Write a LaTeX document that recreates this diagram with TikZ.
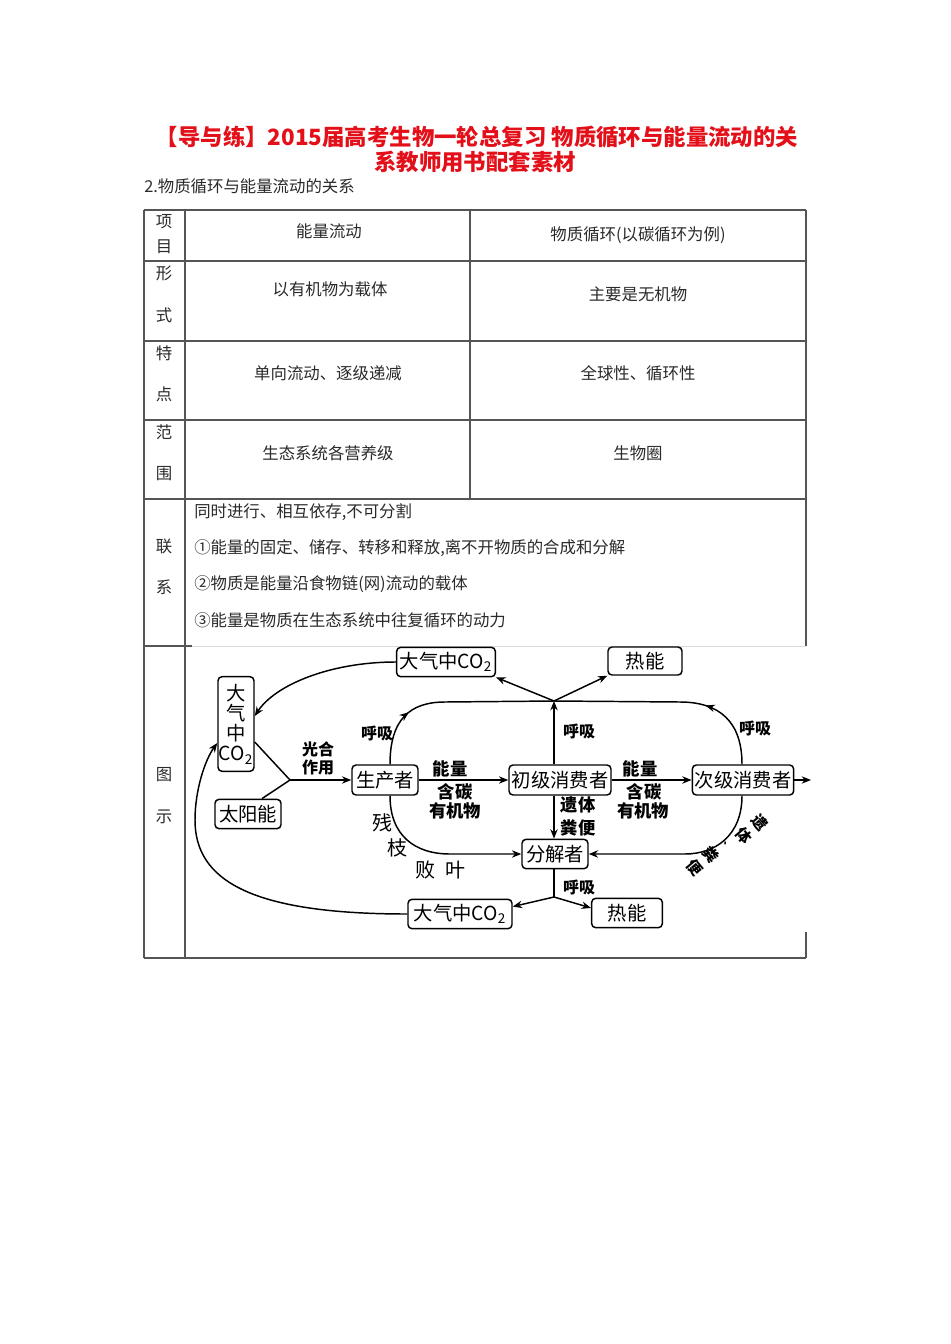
\documentclass[tikz,border=0pt]{standalone}
\usepackage{fontspec}
\setmainfont{Noto Sans CJK SC}
\usetikzlibrary{arrows.meta,calc,decorations.markings}
\definecolor{titlered}{HTML}{E3101A}
\definecolor{tline}{HTML}{555555}
\definecolor{ttext}{HTML}{2A2A2A}
\begin{document}
\begin{tikzpicture}[x=0.75pt,y=-0.75pt,
  tl/.style={draw=tline,line width=0.8pt},
  ttxt/.style={text=ttext,font=\fontsize{12.3}{14}\selectfont,inner sep=0},
  box/.style={draw,rounded corners=3pt,line width=1.1pt,inner sep=0,font=\fontsize{14.5}{17}\selectfont},
  lab/.style={inner sep=0,font=\bfseries\fontsize{12}{14}\selectfont},
  labb/.style={inner sep=0,font=\bfseries\fontsize{13}{15}\selectfont},
  labc/.style={inner sep=0,font=\fontsize{15}{17}\selectfont},
  labr/.style={inner sep=0,font=\bfseries\fontsize{11.5}{16}\selectfont,rotate=-50,align=center},
  conn/.style={line width=1.1pt,-{Stealth[length=7pt,width=5.5pt]}},
  plain/.style={line width=1.1pt},
  midarrow/.style={postaction={decorate},decoration={markings,mark=at position #1 with {\arrow{Stealth[length=7pt,width=5.5pt]}}}},
]
\fill[white] (0,0) rectangle (950,1344);
\useasboundingbox (0,0) rectangle (950,1344);

% ---- title ----
\node[font=\bfseries\fontsize{16.8}{20}\selectfont,text=titlered,inner sep=0] (t1) at (477,137) {【导与练】2015届高考生物一轮总复习 物质循环与能量流动的关};
\node[font=\bfseries\fontsize{16.8}{20}\selectfont,text=titlered,inner sep=0] (t2) at (475,162) {系教师用书配套素材};
\node[ttxt,anchor=west] (sec) at (144,186) {2.物质循环与能量流动的关系};

% ---- table lines ----
\draw[tl] (144,210) -- (806,210);
\draw[tl] (144,261) -- (806,261);
\draw[tl] (144,341) -- (806,341);
\draw[tl] (144,420) -- (806,420);
\draw[tl] (144,499) -- (806,499);
\draw[tl] (144,646) -- (192,646);
\draw[draw=black!15,line width=0.6pt] (192,646) -- (806,646);
\draw[tl] (144,958) -- (806,958);
\draw[tl] (144,210) -- (144,958);
\draw[tl] (185,210) -- (185,958);
\draw[tl] (470,210) -- (470,499);
\draw[tl] (806,210) -- (806,646);
\draw[tl] (806,932) -- (806,958);

% ---- row labels ----
\node[ttxt] (r1a) at (164,222) {项};
\node[ttxt] (r1b) at (164,247) {目};
\node[ttxt] (r2a) at (164,273) {形};
\node[ttxt] (r2b) at (164,315) {式};
\node[ttxt] (r3a) at (164,353) {特};
\node[ttxt] (r3b) at (164,394) {点};
\node[ttxt] (r4a) at (164,432) {范};
\node[ttxt] (r4b) at (164,474) {围};
\node[ttxt] (r5a) at (164,546) {联};
\node[ttxt] (r5b) at (164,587) {系};
\node[ttxt] (r6a) at (164,775) {图};
\node[ttxt] (r6b) at (164,817) {示};

% ---- cells ----
\node[ttxt] (c11) at (329,231) {能量流动};
\node[ttxt] (c12) at (638,235) {物质循环(以碳循环为例)};
\node[ttxt] (c21) at (330,289) {以有机物为载体};
\node[ttxt] (c22) at (638,294) {主要是无机物};
\node[ttxt] (c31) at (328,373) {单向流动、逐级递减};
\node[ttxt] (c32) at (638,373) {全球性、循环性};
\node[ttxt] (c41) at (328,453) {生态系统各营养级};
\node[ttxt] (c42) at (638,453) {生物圈};
\node[ttxt,anchor=west] (l1) at (194,512) {同时进行、相互依存,不可分割};
\node[ttxt,anchor=west] (l2) at (194,548) {①能量的固定、储存、转移和释放,离不开物质的合成和分解};
\node[ttxt,anchor=west] (l3) at (194,584) {②物质是能量沿食物链(网)流动的载体};
\node[ttxt,anchor=west] (l4) at (194,620) {③能量是物质在生态系统中往复循环的动力};

% ---- diagram boxes ----
\node[box,minimum width=74pt,minimum height=22pt] (topco2) at (446,662) {大气中CO\textsubscript{2}};
\node[box,minimum width=55.5pt,minimum height=21pt] (topheat) at (645,661) {热能};
\node[box,minimum width=27pt,minimum height=71pt,align=center,font=\fontsize{14.5}{15.2}\selectfont] (leftco2) at (236,724) {大\\气\\中\\CO\textsubscript{2}};
\node[box,minimum width=49.5pt,minimum height=22pt] (sun) at (248,814) {太阳能};
\node[box,minimum width=49.5pt,minimum height=22.5pt] (prod) at (385,780) {生产者};
\node[box,minimum width=76.5pt,minimum height=22.5pt] (c1) at (560,780) {初级消费者};
\node[box,minimum width=76pt,minimum height=22.5pt] (c2) at (743,780) {次级消费者};
\node[box,minimum width=49.5pt,minimum height=22pt] (dec) at (555,854) {分解者};
\node[box,minimum width=78pt,minimum height=22pt] (botco2) at (460,914) {大气中CO\textsubscript{2}};
\node[box,minimum width=53pt,minimum height=22pt] (botheat) at (627,913) {热能};

\coordinate (J1) at (554,701);
\coordinate (J2) at (554,897);
\coordinate (K) at (290,780);
\coordinate (E) at (811,780);

% ---- connectors ----
\draw[conn] (J1 |- c1.north) -- (J1);
\draw[conn] (J1) -- (topco2.south east);
\draw[conn] (J1) -- (topheat.south west);
\draw[plain,midarrow=0.28] ($(prod.north)+(5,0)$) .. controls +(0,-45) and (410,702) .. (445,702) -- (J1);
\draw[plain,midarrow=0.33] ($(c2.north)+(-1,0)$) .. controls +(0,-42) and (720,702) .. (680,702) -- (J1);
\draw[conn] ($(prod.south)+(5,0)$) .. controls +(0,40) and (415,854) .. (450,854) -- (dec.west);
\draw[conn] ($(c2.south)+(-1,0)$) .. controls +(0,40) and (715,854) .. (685,854) -- (dec.east);
\draw[conn] (J1 |- c1.south) -- (J1 |- dec.north);
\draw[plain] (J1 |- dec.south) -- (J2);
\draw[conn] (J2) -- (botco2.8);
\draw[conn] (J2) -- (botheat.172);
\draw[plain] ($(leftco2.east)+(0,18)$) -- (K);
\draw[plain] ($(sun.north)+(14,0)$) -- (K);
\draw[conn] (K) -- (prod.west);
\draw[conn] (prod.east) -- (c1.west);
\draw[conn] (c1.east) -- (c2.west);
\draw[conn] (c2.east) -- (E);
\draw[conn] (topco2.west) .. controls (330,662) and (275,685) .. ($(leftco2.east)+(0,-8)$);
\draw[conn] (botco2.west) .. controls (250,914) and (195,880) .. (195,820) .. controls (195,790) and (205,760) .. ($(leftco2.west)+(0,19)$);

% ---- labels ----
\node[lab] (hx1) at (377,733) {呼吸};
\node[lab] (hx2) at (579,731) {呼吸};
\node[lab] (hx3) at (755,728) {呼吸};
\node[lab] (hx4) at (579,887) {呼吸};
\node[lab] (gh1) at (318,749) {光合};
\node[lab] (gh2) at (318,767) {作用};
\node[labb] (ny1) at (450,769) {能量};
\node[labb] (ht1) at (455,792) {含碳};
\node[labb] (yj1) at (455,811) {有机物};
\node[labb] (ny2) at (640,769) {能量};
\node[labb] (ht2) at (644,792) {含碳};
\node[labb] (yj2) at (643,811) {有机物};
\node[labb] (yt1) at (578,805) {遗体};
\node[labb] (fb1) at (578,828) {粪便};
\node[labc] (cz1) at (382,823) {残};
\node[labc] (cz2) at (397,848) {枝};
\node[labc] (cz3) at (425,870) {败};
\node[labc] (cz4) at (455,870) {叶};
\node[labr] (yt2) at (752,829) {遗\\体};
\node[labr,font=\bfseries\fontsize{7}{8}\selectfont] (dun) at (727,846) {、};
\node[labr] (fb2) at (703,861) {粪\\便};
\end{tikzpicture}
\end{document}
